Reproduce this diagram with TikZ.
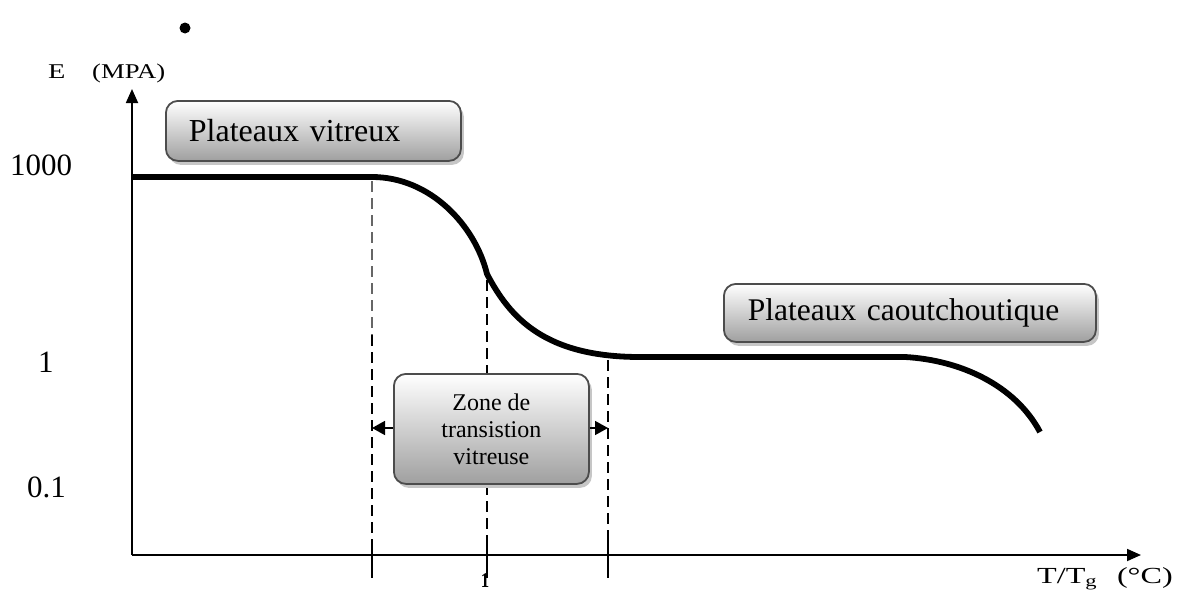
\documentclass[tikz,border=0pt]{standalone}
\usepackage{fontspec}
\setmainfont{Liberation Serif}
\usetikzlibrary{arrows.meta,shadows}

\tikzset{
  axisline/.style={line width=1.8pt, -{Triangle[length=14pt,width=12pt]}},
  modcurve/.style={line width=5.8pt},
  guide/.style={line width=1.6pt, dash pattern=on 11pt off 6pt},
  guidelight/.style={line width=1.2pt, gray!80!black, dash pattern=on 11pt off 6pt},
  tick/.style={line width=1.5pt},
  labelbox/.style={rounded corners=12pt, draw=gray!60!black, line width=1.8pt,
    top color=white, bottom color=gray!75,
    drop shadow={shadow xshift=3pt, shadow yshift=-4pt, fill=gray!45, opacity=1}},
  zonearrow/.style={line width=1.6pt, -{Triangle[length=13pt,width=14pt]}},
  axlabel/.style={font=\fontsize{31}{34}\selectfont, inner sep=0pt},
  unitlabel/.style={font=\fontsize{21}{24}\selectfont, inner sep=0pt},
}
% horizontally widened text, as set in the axis titles
\newcommand{\widetext}[2]{\scalebox{#1}[1]{#2}}

\begin{document}
\begin{tikzpicture}[x=1pt,y=-1pt]
\useasboundingbox (0,0) rectangle (1177,597);

% bullet above the axes
\fill (185,28) circle (5.5pt);

% axis origin and ends
\coordinate (O) at (132,555);
\coordinate (ytop) at (132,89);
\coordinate (xend) at (1141,555);

% axis titles
\node[unitlabel, anchor=base west] (ename) at (48,78) {\widetext{1.35}{E}};
\node[unitlabel, anchor=base west] (eunit) at (92,78) {\widetext{1.27}{(MPA)}};
\node[unitlabel, font=\fontsize{23}{26}\selectfont, anchor=base east] (tname) at (1173,583)
  {\widetext{1.4}{T/T$_{\mathrm{g}}$\hspace{14pt}(°C)}};

% value labels on the E axis
\node[axlabel, anchor=base west] (v1000) at (10,175) {1000};
\node[axlabel, anchor=base west] (v1) at (38,372) {1};
\node[axlabel, anchor=base west] (v01) at (27,497) {0.1};

% small temperature mark
\node[inner sep=0pt, anchor=base, font=\fontsize{21}{22}\selectfont\bfseries] (t1) at (485,587) {\widetext{0.8}{1}};

% reference points on the modulus curve
\coordinate (c0) at (132,177);
\coordinate (c1) at (372,177);
\coordinate (c2) at (487,274);
\coordinate (c3) at (640,357);
\coordinate (c4) at (905,357);
\coordinate (c5) at (1040,432);

% vertical guides at the transition limits
\coordinate (g1top) at (372,181);
\coordinate (g1mid) at (372,335);
\coordinate (g1bot) at (372,578);
\coordinate (g2top) at (487,280);
\coordinate (g2bot) at (487,578);
\coordinate (g3top) at (608,360);
\coordinate (g3bot) at (608,578);
\coordinate (t1a) at (372,540);
\coordinate (t2a) at (487,540);
\coordinate (t3a) at (608,540);

\draw[guidelight] (g1top) -- (g1mid);
\draw[guide] (g1mid) -- (t1a);
\draw[guide] (g2top) -- (t2a);
\draw[guide] (g3top) -- (t3a);
\draw[tick] (t1a) -- (g1bot);
\draw[tick] (t2a) -- (g2bot);
\draw[tick] (t3a) -- (g3bot);

% axes
\draw[axisline] (O) -- (ytop);
\draw[axisline] (O) -- (xend);

% modulus curve
\draw[modcurve] (c0) -- (c1)
  .. controls (430,177) and (475,225) .. (c2)
  .. controls (510,318) and (545,357) .. (c3)
  -- (c4)
  .. controls (960,360) and (1015,385) .. (c5);

% labelled regions
\node[labelbox, anchor=north west, minimum height=60pt, inner xsep=23pt,
      text width=249pt, align=left, font=\fontsize{32}{36}\selectfont] (vitreux) at (165,100) {Plateaux vitreux};
\node[labelbox, anchor=north west, minimum height=58pt, inner xsep=24pt,
      text width=324pt, align=left, font=\fontsize{31.5}{36}\selectfont] (caout) at (723,283) {Plateaux caoutchoutique};
\node[labelbox, anchor=north west, minimum height=110pt, minimum width=195pt,
      align=center, font=\fontsize{24}{27}\selectfont] (zone) at (393,373) {Zone de\\transistion\\vitreuse};

% extent of the transition zone
\coordinate (zl) at (372,428);
\coordinate (zr) at (608,428);
\draw[zonearrow] (zone.west |- zl) -- (zl);
\draw[zonearrow] (zone.east |- zr) -- (zr);
\end{tikzpicture}
\end{document}
